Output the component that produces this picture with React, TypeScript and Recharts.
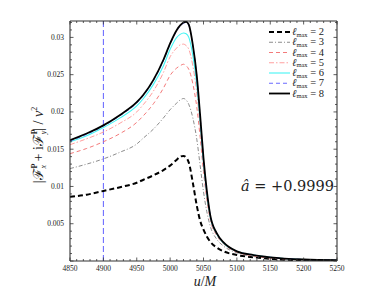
import React from 'react';
import { LineChart, Line, XAxis, YAxis, ReferenceLine, Customized } from 'recharts';

const uValues = [4850, 4875, 4900, 4925, 4950, 4960, 4975, 4990, 5000, 5010, 5015, 5020, 5024, 5028, 5034, 5040, 5045, 5050, 5055, 5060, 5070, 5080, 5100, 5125, 5150, 5200, 5250];

const l2 = [0.0086, 0.0089, 0.0094, 0.0099, 0.0105, 0.0109, 0.0115, 0.0122, 0.0128, 0.0136, 0.0140, 0.0141, 0.0139, 0.0132, 0.0105, 0.0074, 0.0054, 0.0042, 0.0033, 0.0026, 0.0018, 0.0013, 0.0008, 0.0005, 0.0003, 0.0001, 0.0001];
const l3 = [0.0124, 0.0130, 0.0137, 0.0146, 0.0157, 0.0165, 0.0177, 0.0192, 0.0203, 0.0212, 0.0216, 0.0218, 0.0216, 0.0210, 0.0192, 0.0163, 0.0128, 0.0093, 0.0066, 0.0047, 0.0029, 0.0020, 0.0011, 0.0006, 0.0004, 0.0002, 0.0001];
const l4 = [0.0144, 0.0151, 0.0160, 0.0171, 0.0186, 0.0195, 0.0211, 0.0232, 0.0249, 0.0259, 0.0262, 0.0264, 0.0262, 0.0257, 0.0238, 0.0206, 0.0166, 0.0120, 0.0083, 0.0056, 0.0034, 0.0023, 0.0012, 0.0007, 0.0004, 0.0002, 0.0001];
const l5 = [0.0156, 0.0164, 0.0173, 0.0185, 0.0200, 0.0210, 0.0228, 0.0253, 0.0274, 0.0286, 0.0290, 0.0291, 0.0289, 0.0284, 0.0262, 0.0225, 0.0180, 0.0127, 0.0087, 0.0058, 0.0035, 0.0024, 0.0012, 0.0007, 0.0005, 0.0002, 0.0001];
const l6 = [0.0160, 0.0168, 0.0179, 0.0192, 0.0208, 0.0218, 0.0237, 0.0262, 0.0284, 0.0300, 0.0304, 0.0306, 0.0305, 0.0300, 0.0276, 0.0236, 0.0187, 0.0132, 0.0090, 0.0060, 0.0036, 0.0024, 0.0013, 0.0008, 0.0005, 0.0002, 0.0001];
const l7 = [0.0161, 0.0170, 0.0181, 0.0195, 0.0212, 0.0222, 0.0242, 0.0269, 0.0291, 0.0309, 0.0315, 0.0319, 0.0320, 0.0316, 0.0289, 0.0247, 0.0194, 0.0137, 0.0093, 0.0062, 0.0037, 0.0025, 0.0013, 0.0008, 0.0005, 0.0002, 0.0001];
const l8 = [0.0162, 0.0171, 0.0182, 0.0196, 0.0213, 0.0223, 0.0243, 0.0270, 0.0292, 0.0310, 0.0316, 0.0320, 0.0321, 0.0317, 0.0290, 0.0248, 0.0195, 0.0138, 0.0094, 0.0062, 0.0037, 0.0025, 0.0013, 0.0008, 0.0005, 0.0002, 0.0001];

const xTickLabels = [4850, 4900, 4950, 5000, 5050, 5100, 5150, 5200, 5250];
const yTickLabels = [0.005, 0.01, 0.015, 0.02, 0.025, 0.03];
const yTickText = ['0.005', '0.01', '0.015', '0.02', '0.025', '0.03'];
const referenceU = 4900;
const spinLabel = '+0.9999';

const seriesDefs = [
  { key: 'l2', lmax: '2', values: l2, color: '#000000', width: 2, dash: '5 3' },
  { key: 'l3', lmax: '3', values: l3, color: '#6e6e6e', width: 0.8, dash: '4 2 1 2' },
  { key: 'l4', lmax: '4', values: l4, color: '#f26b6b', width: 0.9, dash: '4 3' },
  { key: 'l5', lmax: '5', values: l5, color: '#ff9f9f', width: 1, dash: '5 2 1.5 2' },
  { key: 'l6', lmax: '6', values: l6, color: '#44f4f4', width: 1.1, dash: undefined },
  { key: 'l7', lmax: '7', values: l7, color: '#6a6aff', width: 1, dash: '4 3' },
  { key: 'l8', lmax: '8', values: l8, color: '#000000', width: 1.8, dash: undefined },
];

const data = uValues.map((u, i) => {
  const row: any = { u };
  seriesDefs.forEach((s) => { row[s.key] = s.values[i]; });
  return row;
});

const xTicks: number[] = [];
for (let v = 4850; v <= 5250; v += 10) xTicks.push(v);
const yTicks: number[] = [];
for (let k = 0; k <= 32; k++) yTicks.push(k / 1000);

const isMajorX = (v: number) => xTickLabels.includes(v);
const majorYIndex = (v: number) => yTickLabels.findIndex((t) => Math.abs(t - v) < 1e-7);
const isMajorY = (v: number) => Math.abs(Math.round(v / 0.005) * 0.005 - v) < 1e-7;

const FONT = '"Liberation Serif", "DejaVu Serif", serif';
const MAJ = 3.5;
const MIN = 2;

const BottomTick = (props: any) => {
  const { x, y, payload } = props;
  const major = isMajorX(payload.value);
  return (
    <g>
      <line x1={x} y1={y} x2={x} y2={y - (major ? MAJ : MIN)} stroke="#333" strokeWidth={0.8} />
      {major && (
        <text x={x} y={y + 9.5} textAnchor="middle" fontSize={7.5} fontFamily={FONT} fill="#222">
          {payload.value}
        </text>
      )}
    </g>
  );
};

const TopTick = (props: any) => {
  const { x, y, payload } = props;
  const major = isMajorX(payload.value);
  return <line x1={x} y1={y} x2={x} y2={y + (major ? MAJ : MIN)} stroke="#333" strokeWidth={0.8} />;
};

const LeftTick = (props: any) => {
  const { x, y, payload } = props;
  const major = isMajorY(payload.value);
  const idx = majorYIndex(payload.value);
  return (
    <g>
      <line x1={x} y1={y} x2={x + (major ? MAJ : MIN)} y2={y} stroke="#333" strokeWidth={0.8} />
      {idx >= 0 && (
        <text x={x - 6} y={y + 2.5} textAnchor="end" fontSize={7.5} fontFamily={FONT} fill="#222">
          {yTickText[idx]}
        </text>
      )}
    </g>
  );
};

const RightTick = (props: any) => {
  const { x, y, payload } = props;
  const major = isMajorY(payload.value);
  return <line x1={x} y1={y} x2={x - (major ? MAJ : MIN)} y2={y} stroke="#333" strokeWidth={0.8} />;
};

const Overlay = () => {
  const lx0 = 269;
  const lx1 = 290;
  const ly0 = 32;
  const dy = 10.25;
  return (
    <g>
      {seriesDefs.map((s, i) => {
        const yy = ly0 + i * dy;
        return (
          <g key={s.key}>
            <line x1={lx0} y1={yy} x2={lx1} y2={yy} stroke={s.color} strokeWidth={s.width} strokeDasharray={s.dash} />
            <text x={lx1 + 2} y={yy + 3} fontSize={10.5} fontFamily={FONT} fill="#222">
              <tspan fontStyle="italic">ℓ</tspan>
              <tspan fontSize={6.5} dy={1.5}>max</tspan>
              <tspan dy={-1.5}>{' = ' + s.lmax}</tspan>
            </text>
          </g>
        );
      })}
      <text x={241} y={191} fontSize={14.5} fontFamily='"DejaVu Serif", serif' fill="#222">
        <tspan fontStyle="italic">â</tspan>
        {' = ' + spinLabel}
      </text>
      <text x={205} y={286} textAnchor="middle" fontSize={14} fontFamily={FONT} fill="#222">
        <tspan fontStyle="italic">u</tspan>/<tspan fontStyle="italic">M</tspan>
      </text>
      <text transform="translate(43,145) rotate(-90)" textAnchor="middle" fontSize={14} fontFamily={FONT} fill="#222">
        {'|ℱ'}
        <tspan fontSize={8} fontWeight="bold" dy={-6}>P</tspan>
        <tspan fontSize={8} fontStyle="italic" dx={-5} dy={9}>x</tspan>
        <tspan dy={-3}>{' + i'}</tspan>
        <tspan>ℱ</tspan>
        <tspan fontSize={8} fontWeight="bold" dy={-6}>P</tspan>
        <tspan fontSize={8} fontStyle="italic" dx={-5} dy={9}>y</tspan>
        <tspan dy={-3}>{'| / '}</tspan>
        <tspan fontStyle="italic">ν</tspan>
        <tspan fontSize={8} dy={-6}>2</tspan>
      </text>
    </g>
  );
};

export default function App() {
  return (
    <div style={{ position: 'fixed', left: 0, top: 0, width: 374, height: 294, background: '#fff' }}>
      <LineChart width={374} height={294} data={data} margin={{ top: 20, right: 36, bottom: 32, left: 69 }}>
        <XAxis xAxisId="b" dataKey="u" type="number" domain={[4850, 5250]} ticks={xTicks} interval={0}
          height={1} tickSize={0} tickMargin={0} tick={<BottomTick />} tickLine={false}
          axisLine={{ stroke: '#333', strokeWidth: 1.1 }} allowDataOverflow />
        <XAxis xAxisId="t" orientation="top" dataKey="u" type="number" domain={[4850, 5250]} ticks={xTicks} interval={0}
          height={1} tickSize={0} tickMargin={0} tick={<TopTick />} tickLine={false}
          axisLine={{ stroke: '#333', strokeWidth: 1.1 }} allowDataOverflow />
        <YAxis yAxisId="l" type="number" domain={[0, 0.0322]} ticks={yTicks} interval={0}
          width={1} tickSize={0} tickMargin={0} tick={<LeftTick />} tickLine={false}
          axisLine={{ stroke: '#333', strokeWidth: 1.1 }} allowDataOverflow />
        <YAxis yAxisId="r" orientation="right" type="number" domain={[0, 0.0322]} ticks={yTicks} interval={0}
          width={1} tickSize={0} tickMargin={0} tick={<RightTick />} tickLine={false}
          axisLine={{ stroke: '#333', strokeWidth: 1.1 }} allowDataOverflow />
        <ReferenceLine xAxisId="b" yAxisId="l" x={referenceU} stroke="#4f4fff" strokeWidth={0.9} strokeDasharray="6 3" />
        {seriesDefs.map((s) => (
          <Line key={s.key} xAxisId="b" yAxisId="l" type="monotone" dataKey={s.key} stroke={s.color}
            strokeWidth={s.width} strokeDasharray={s.dash} dot={false} activeDot={false} isAnimationActive={false} />
        ))}
        <Customized component={Overlay} />
      </LineChart>
    </div>
  );
}
